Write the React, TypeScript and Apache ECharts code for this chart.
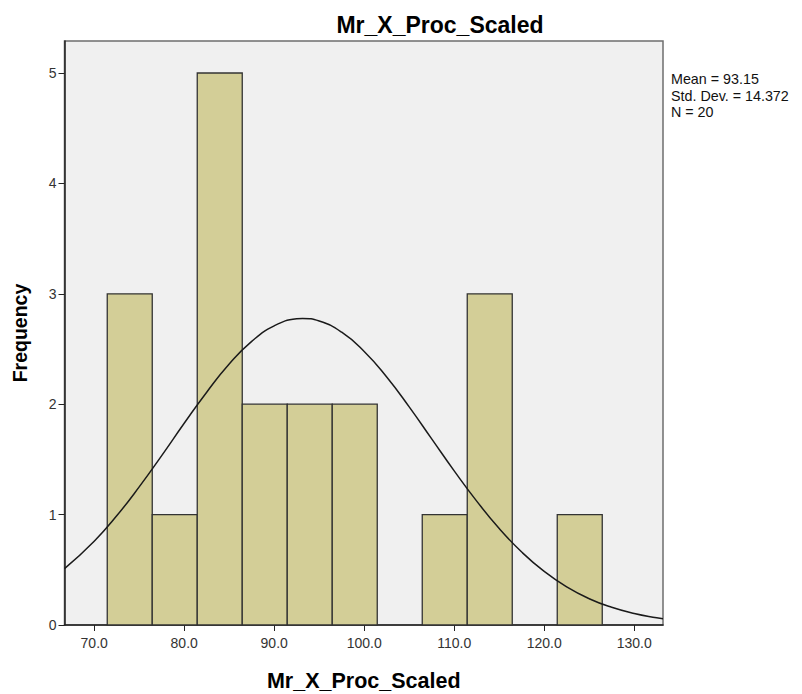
import React, { useEffect, useRef } from "react";
import * as echarts from "echarts";

const TITLE = "Mr_X_Proc_Scaled";
const X_NAME = "Mr_X_Proc_Scaled";
const Y_NAME = "Frequency";
const STATS = ["Mean = 93.15", "Std. Dev. = 14.372", "N = 20"];

// histogram bins: [start, end]
const binStarts = [71.45, 76.45, 81.45, 86.45, 91.45, 96.45, 101.45, 106.45, 111.45, 116.45, 121.45];
const binWidth = 5;
const counts = [3, 1, 5, 2, 2, 2, 0, 1, 3, 0, 1];

// normal curve points
const curveX = [66.7, 70, 72.5, 75, 77.5, 80, 82.5, 85, 87.5, 90, 92.5, 93.15, 95, 97.5, 100, 102.5, 105, 107.5, 110, 112.5, 115, 117.5, 120, 122.5, 125, 127.5, 130, 132.5, 133.2];
const curveY = [0.51, 0.759, 0.989, 1.251, 1.534, 1.827, 2.109, 2.364, 2.569, 2.71, 2.773, 2.776, 2.753, 2.652, 2.478, 2.247, 1.976, 1.686, 1.396, 1.122, 0.874, 0.661, 0.485, 0.345, 0.238, 0.16, 0.104, 0.065, 0.057];

const xTicks = [70, 80, 90, 100, 110, 120, 130];
const yTicks = [0, 1, 2, 3, 4, 5];
const X_MIN = 66.7;
const X_MAX = 133.2;
const Y_MAX = 5.29;

export default function App() {
  const ref = useRef<HTMLDivElement>(null);
  useEffect(() => {
    if (!ref.current) return;
    const chart = echarts.init(ref.current, null, { renderer: "svg" });
    const font = "Arial, 'Liberation Sans', sans-serif";
    const barData = binStarts.map((s, i) => [s, s + binWidth, counts[i]]).filter((d) => d[2] > 0);
    const lineData = curveX.map((x, i) => [x, curveY[i]]);
    chart.setOption({
      animation: false,
      backgroundColor: "#ffffff",
      title: {
        text: TITLE,
        left: 435,
        top: 8,
        textAlign: "center",
        textStyle: { fontFamily: font, fontWeight: "bold", fontSize: 23, color: "#000" },
      },
      grid: {
        left: 64.5,
        right: 139,
        top: 41,
        bottom: 69,
        containLabel: false,
        outerBoundsMode: "none",
        show: true,
        backgroundColor: "#f0f0f0",
        borderColor: "#6e6e6e",
        borderWidth: 1.5,
      },
      xAxis: {
        type: "value",
        min: X_MIN,
        max: X_MAX,
        name: X_NAME,
        nameLocation: "middle",
        nameGap: 45,
        nameTextStyle: { fontFamily: font, fontWeight: "bold", fontSize: 21.5, color: "#000" },
        axisLine: { show: true, onZero: false, lineStyle: { color: "#222", width: 1.5 } },
        axisTick: { show: true, length: 6, lineStyle: { color: "#222" }, customValues: xTicks },
        axisLabel: {
          show: true,
          margin: 11,
          fontFamily: font,
          fontSize: 14,
          color: "#333",
          customValues: xTicks,
          formatter: (v: number) => v.toFixed(1),
        },
        splitLine: { show: false },
      },
      yAxis: {
        type: "value",
        min: 0,
        max: Y_MAX,
        interval: 1,
        name: Y_NAME,
        nameLocation: "middle",
        nameGap: 35,
        nameRotate: 90,
        nameTextStyle: { fontFamily: font, fontWeight: "bold", fontSize: 19.5, color: "#000" },
        axisLine: { show: true, lineStyle: { color: "#222", width: 1.5 } },
        axisTick: { show: true, length: 6, lineStyle: { color: "#222" }, customValues: yTicks },
        axisLabel: {
          fontFamily: font,
          fontSize: 14,
          color: "#333",
          margin: 8,
          customValues: yTicks,
          formatter: (v: number) => String(v),
        },
        splitLine: { show: false },
      },
      graphic: [
        {
          type: "text",
          left: 671,
          top: 71,
          style: {
            text: STATS.join("\n"),
            fontFamily: font,
            fontSize: 14.3,
            lineHeight: 16.5,
            fill: "#111",
          },
        },
      ],
      series: [
        {
          type: "custom",
          data: barData,
          renderItem: (params: any, api: any) => {
            const p0 = api.coord([api.value(0), 0]);
            const p1 = api.coord([api.value(1), api.value(2)]);
            return {
              type: "rect",
              shape: { x: p0[0], y: p1[1], width: p1[0] - p0[0], height: p0[1] - p1[1] },
              style: { fill: "#d3ce97", stroke: "#333333", lineWidth: 1.3 },
            };
          },
          encode: { x: [0, 1], y: 2 },
          silent: true,
          z: 2,
        },
        {
          type: "line",
          data: lineData,
          smooth: true,
          showSymbol: false,
          symbol: "none",
          lineStyle: { color: "#1a1a1a", width: 1.5 },
          silent: true,
          z: 3,
        },
      ],
    });
    return () => chart.dispose();
  }, []);
  return <div ref={ref} style={{ position: "fixed", left: 0, top: 0, width: 802, height: 694 }} />;
}
